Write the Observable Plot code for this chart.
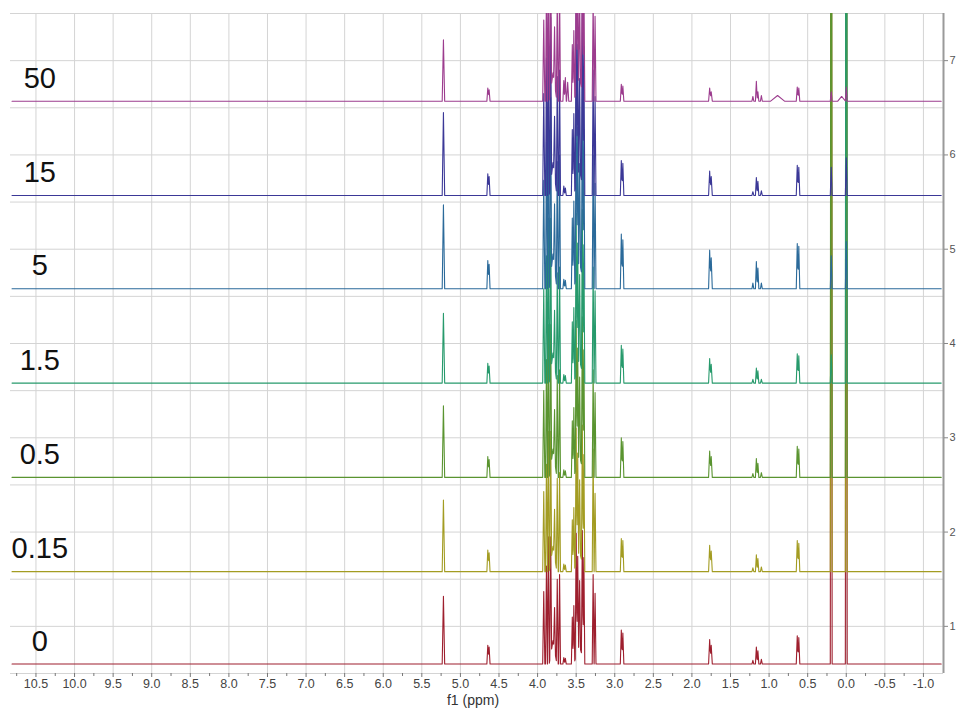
<!DOCTYPE html>
<html><head><meta charset="utf-8">
<script src="https://cdn.jsdelivr.net/npm/d3@7"></script>
<script src="https://cdn.jsdelivr.net/npm/@observablehq/plot@0.6"></script>
<style>body{margin:0;background:#fff} svg{display:block}</style>
</head><body><div id="chart"></div>
<script>
// ---- data ----
const concentrations = ["0", "0.15", "0.5", "1.5", "5", "15", "50"];
const baselines = [0.6, 1.58, 2.58, 3.58, 4.58, 5.57, 6.57];
const traceColors = ["#9e1f2e", "#a39c22", "#5a9430", "#279a6c", "#2b6a9a", "#3b3897", "#9c3c8e"];

// shared peak positions (ppm) and half widths (ppm)
const peakPpm = [5.22, 4.645, 4.628,
  3.92, 3.885, 3.86, 3.83, 3.80, 3.78, 3.745, 3.715, 3.66, 3.64, 3.61,
  3.55, 3.53, 3.50, 3.48, 3.455, 3.42, 3.40, 3.46, 3.28, 3.255,
  2.915, 2.895, 1.77, 1.75, 1.21, 1.165, 1.145, 1.10, 0.89, 0.635, 0.615, 0.195, 0.0, 0.06];
const peakHalfWidth = [0.016, 0.012, 0.012,
  0.014, 0.012, 0.012, 0.012, 0.05, 0.012, 0.012, 0.012, 0.012, 0.012, 0.014,
  0.012, 0.012, 0.012, 0.012, 0.012, 0.012, 0.012, 0.07, 0.012, 0.012,
  0.013, 0.013, 0.014, 0.014, 0.012, 0.012, 0.012, 0.012, 0.09, 0.013, 0.013, 0.012, 0.012, 0.05];

const heights0 = [0.72, 0.20, 0.18,
  0.77, 1.04, 1.35, 1.25, 0.25, 0.45, 0.90, 0.95, 0.07, 0.06, 0,
  0.50, 0.62, 1.30, 1.00, 0.70, 1.33, 1.10, 0.20, 0.95, 0.75,
  0.36, 0.33, 0.26, 0.20, 0.04, 0.18, 0.14, 0.05, 0, 0.30, 0.28, 12, 12, 0];
const heights015 = [0.76, 0.23, 0.20,
  0.85, 1.14, 1.49, 1.38, 0.27, 0.50, 0.99, 1.05, 0.08, 0.07, 0,
  0.55, 0.68, 1.43, 1.10, 0.77, 1.46, 1.21, 0.22, 1.30, 0.83,
  0.35, 0.33, 0.28, 0.22, 0.04, 0.18, 0.14, 0.05, 0, 0.33, 0.30, 12, 12, 0];
const heights05 = [0.76, 0.22, 0.19,
  0.92, 1.25, 1.62, 1.50, 0.30, 0.54, 1.08, 1.14, 0.08, 0.07, 0,
  0.60, 0.74, 1.56, 1.20, 0.84, 1.60, 1.32, 0.24, 1.14, 0.90,
  0.42, 0.38, 0.28, 0.22, 0.04, 0.20, 0.15, 0.05, 0, 0.33, 0.30, 12, 12, 0];
const heights15 = [0.74, 0.21, 0.18,
  1.00, 1.35, 1.75, 1.62, 0.32, 0.58, 1.17, 1.23, 0.09, 0.08, 0,
  0.65, 0.80, 1.69, 1.30, 0.91, 1.73, 1.43, 0.26, 1.23, 0.98,
  0.40, 0.36, 0.26, 0.20, 0.04, 0.16, 0.13, 0.04, 0, 0.31, 0.29, 0.30, 12, 0];
const heights5 = [0.89, 0.30, 0.26,
  1.15, 1.56, 2.00, 1.88, 0.37, 0.68, 1.35, 1.42, 0.10, 0.09, 0,
  0.75, 0.93, 1.95, 1.50, 1.05, 2.00, 1.65, 0.30, 1.42, 1.12,
  0.58, 0.52, 0.41, 0.33, 0.06, 0.29, 0.22, 0.06, 0, 0.48, 0.45, 0.35, 0.50, 0];
const heights15x = [0.88, 0.23, 0.20,
  1.08, 1.46, 1.89, 1.75, 0.35, 0.63, 1.26, 1.33, 0.10, 0.08, 0,
  0.70, 0.87, 1.82, 1.40, 0.98, 1.86, 1.54, 0.28, 1.33, 1.05,
  0.37, 0.34, 0.26, 0.20, 0.04, 0.19, 0.15, 0.05, 0, 0.32, 0.30, 0.30, 0.40, 0];
const heights50 = [0.65, 0.14, 0.12,
  0.86, 1.20, 1.60, 1.50, 0.30, 0.61, 1.10, 1.20, 0.22, 0.25, 0.20,
  0.60, 0.75, 1.50, 1.20, 0.85, 1.60, 1.30, 0.25, 1.10, 0.90,
  0.18, 0.16, 0.14, 0.10, 0.05, 0.21, 0.10, 0.06, 0.06, 0.15, 0.14, 0.10, 0.15, 0.05];
const traceHeights = [heights0, heights015, heights05, heights15, heights5, heights15x, heights50];

const xTickValues = [10.5, 10.0, 9.5, 9.0, 8.5, 8.0, 7.5, 7.0, 6.5, 6.0, 5.5, 5.0, 4.5, 4.0, 3.5, 3.0, 2.5, 2.0, 1.5, 1.0, 0.5, 0.0, -0.5, -1.0];
const xMinorTicks = [10.75, 10.25, 9.75, 9.25, 8.75, 8.25, 7.75, 7.25, 6.75, 6.25, 5.75, 5.25, 4.75, 4.25, 3.75, 3.25, 2.75, 2.25, 1.75, 1.25, 0.75, 0.25, -0.25, -0.75];
const yTickValues = [1, 2, 3, 4, 5, 6, 7];
const yGridValues = [0.5, 1, 1.5, 2, 2.5, 3, 3.5, 4, 4.5, 5, 5.5, 6, 6.5, 7, 7.5];
const xDomain = [10.83, -1.26];
const yDomain = [0.5, 7.5];
const xTitle = "f1 (ppm)";

// ---- build each spectrum as a piecewise-linear sum of its peaks ----
function spectrum(i) {
  const h = traceHeights[i];
  const verts = new Set([xDomain[0] - 0.02, xDomain[1] + 0.03]);
  peakPpm.forEach((p, j) => {
    if (h[j] > 0) { verts.add(p - peakHalfWidth[j]); verts.add(p); verts.add(p + peakHalfWidth[j]); }
  });
  return Array.from(verts).sort((a, b) => b - a).map(v => {
    let val = baselines[i];
    peakPpm.forEach((p, j) => {
      const t = 1 - Math.abs(v - p) / peakHalfWidth[j];
      if (t > 0 && h[j] > 0) val += h[j] * t;
    });
    return {ppm: v, value: val};
  });
}

const lineMarks = concentrations.map((c, i) =>
  Plot.line(spectrum(i), {x: "ppm", y: "value", stroke: traceColors[i], strokeWidth: 1.1, clip: true}));

const chart = Plot.plot({
  width: 958,
  height: 712,
  marginLeft: 10,
  marginRight: 15,
  marginTop: 13,
  marginBottom: 39,
  style: {fontFamily: "Liberation Sans, Arial, sans-serif", background: "#fff"},
  x: {domain: xDomain, range: [10, 943]},
  y: {domain: yDomain},
  marks: [
    Plot.gridX(xTickValues, {stroke: "#d4d4d4", strokeOpacity: 1}),
    Plot.gridY(yGridValues, {stroke: "#d4d4d4", strokeOpacity: 1}),
    Plot.ruleX([xDomain[1]], {stroke: "#9a9a9a", strokeWidth: 2}),
    Plot.axisX({ticks: xMinorTicks, tickSize: 3, tickFormat: () => "", label: null, stroke: "#777"}),
    Plot.axisX({ticks: xTickValues, tickSize: 4, tickPadding: 2, tickFormat: d => d.toFixed(1), fontSize: 12.5, fill: "#444", stroke: "#777", label: null}),
    Plot.text([xTitle], {frameAnchor: "bottom", lineAnchor: "top", dx: -4, dy: 22, text: d => d, fontSize: 14, fill: "#333"}),
    Plot.axisY({anchor: "right", ticks: yTickValues, tickSize: 4, tickPadding: 2, fontSize: 11, fill: "#555", stroke: "#888", label: null, tickFormat: d => String(d)}),
    ...lineMarks,
    Plot.text(concentrations, {x: () => 10.45, y: (d, i) => baselines[i] + 0.24, text: d => d, fontSize: 29, textAnchor: "middle", fill: "#111"})
  ]
});
document.getElementById("chart").append(chart);
</script>
</body></html>
